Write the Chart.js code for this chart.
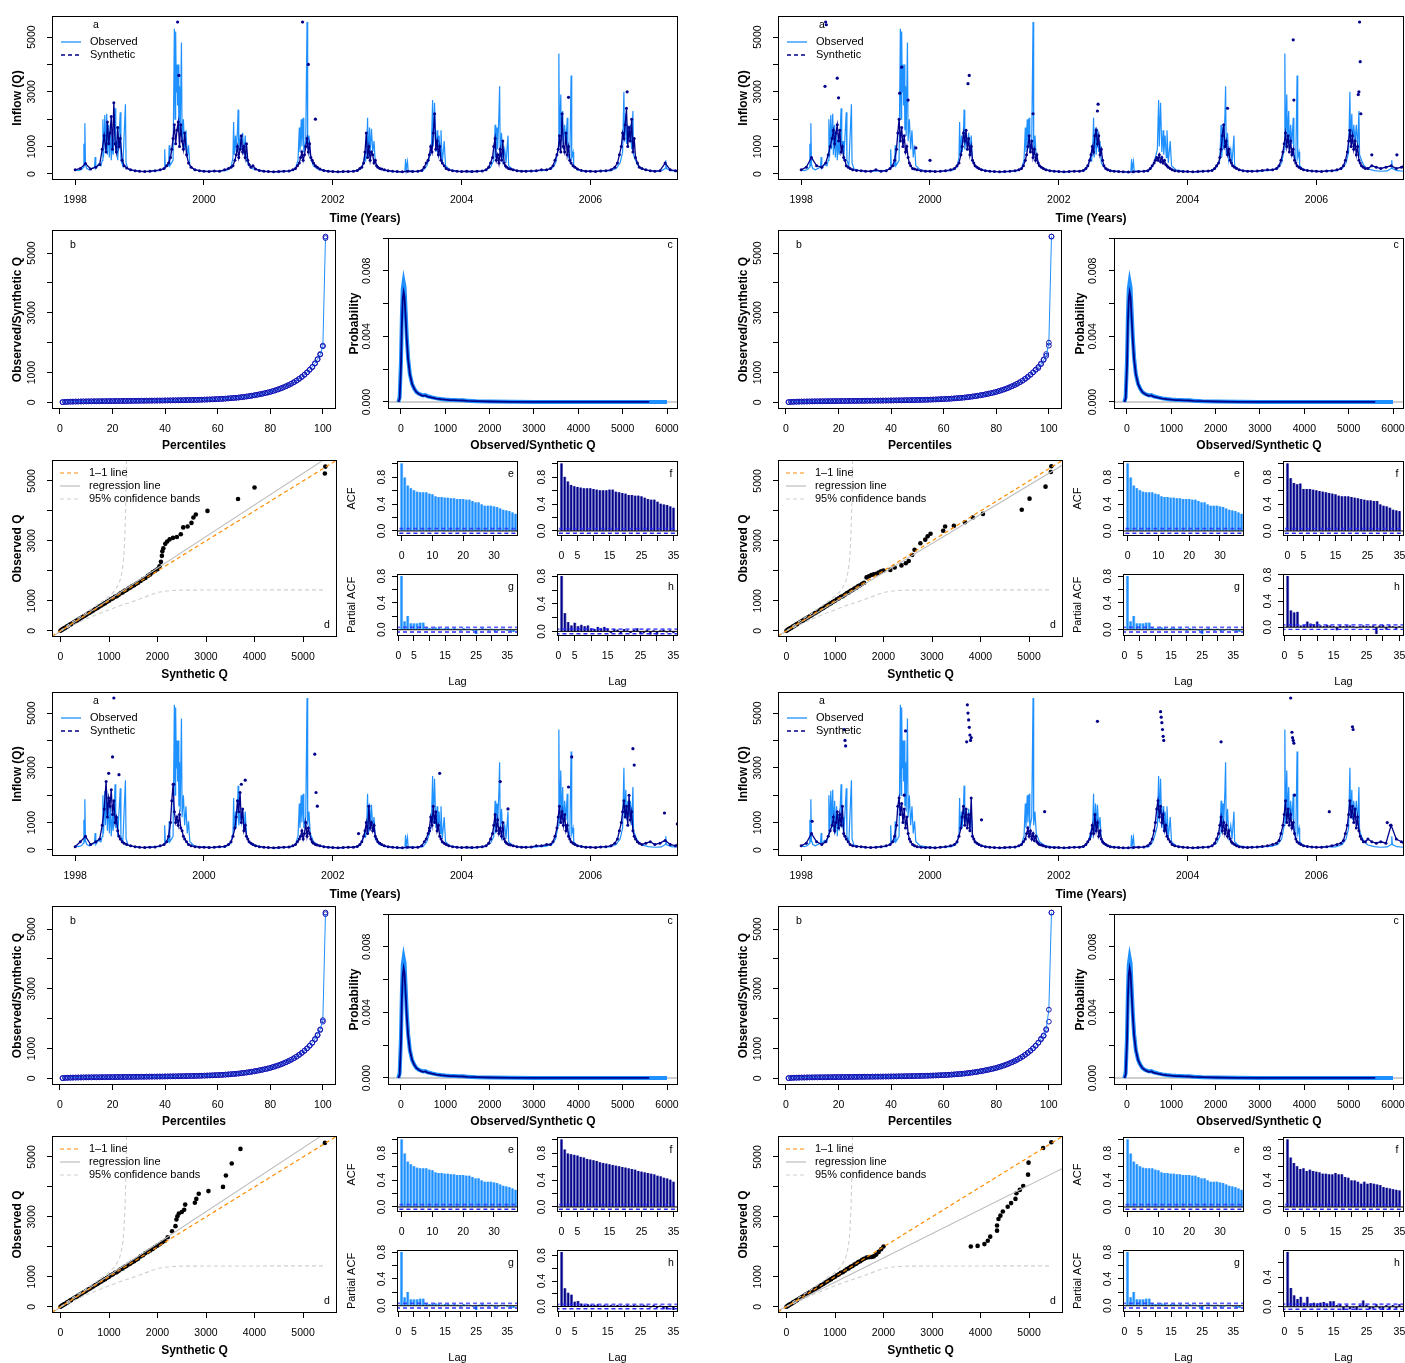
<!DOCTYPE html>
<html lang="en">
<head>
<meta charset="UTF-8" />
<title>Observed vs synthetic inflow</title>
<script src="https://cdn.jsdelivr.net/npm/chart.js"></script>
<style>
  body { margin: 0; background: #fff; }
  #fig { position: relative; width: 1405px; height: 1363px; overflow: hidden; background: #fff; }
  #fig canvas { position: absolute; }
</style>
</head>
<body>
<div id="fig"></div>
<script>
// ---- observed daily inflow (spikes kept) ----
const obsTime = [
  1998.00,1998.05,1998.10,1998.13,1998.135,1998.14,1998.15,1998.16,1998.18,1998.22,1998.30,1998.31,1998.32,1998.36,1998.40,1998.42,1998.43,1998.44,1998.46,1998.47,1998.49,1998.50,1998.52,1998.53,1998.55,1998.56,1998.58,1998.59,1998.62,1998.63,1998.65,1998.66,1998.70,1998.71,1998.74,1998.78,1998.79,1998.82,1998.90,
  1999.00,1999.10,1999.20,1999.30,1999.38,1999.39,1999.40,1999.45,1999.46,1999.47,1999.52,1999.54,1999.55,1999.56,1999.57,1999.58,1999.59,1999.60,1999.61,1999.62,1999.63,1999.65,1999.66,1999.68,1999.70,1999.72,1999.74,1999.76,1999.78,1999.85,1999.95,
  2000.05,2000.15,2000.25,2000.35,2000.42,2000.45,2000.46,2000.47,2000.49,2000.50,2000.52,2000.53,2000.54,2000.56,2000.58,2000.60,2000.62,2000.64,2000.66,2000.70,2000.75,2000.85,2000.95,
  2001.05,2001.15,2001.25,2001.35,2001.42,2001.46,2001.48,2001.49,2001.51,2001.52,2001.54,2001.55,2001.58,2001.60,2001.61,2001.63,2001.65,2001.70,2001.78,2001.90,
  2002.00,2002.10,2002.20,2002.30,2002.40,2002.46,2002.50,2002.51,2002.53,2002.54,2002.55,2002.57,2002.58,2002.60,2002.62,2002.64,2002.66,2002.72,2002.82,2002.95,
  2003.05,2003.12,2003.13,2003.14,2003.16,2003.17,2003.30,2003.40,2003.46,2003.50,2003.53,2003.55,2003.56,2003.58,2003.60,2003.62,2003.63,2003.65,2003.67,2003.68,2003.70,2003.73,2003.75,2003.82,2003.95,
  2004.05,2004.15,2004.25,2004.35,2004.45,2004.50,2004.52,2004.53,2004.55,2004.56,2004.58,2004.59,2004.60,2004.62,2004.64,2004.67,2004.69,2004.72,2004.73,2004.80,2004.90,
  2005.00,2005.10,2005.20,2005.30,2005.40,2005.46,2005.50,2005.51,2005.52,2005.54,2005.55,2005.57,2005.58,2005.60,2005.62,2005.64,2005.65,2005.68,2005.70,2005.71,2005.73,2005.74,2005.80,2005.90,
  2006.00,2006.10,2006.20,2006.30,2006.40,2006.46,2006.50,2006.52,2006.53,2006.55,2006.56,2006.58,2006.60,2006.62,2006.64,2006.66,2006.67,2006.70,2006.74,2006.80,2006.90,
  2007.00,2007.10,2007.16,2007.17,2007.18,2007.25,2007.36
];
const obsQ = [
  150,120,160,250,1100,300,1850,350,200,150,250,620,200,350,300,500,2000,600,2150,900,2200,700,1800,600,1600,500,1300,700,2400,800,1200,500,2250,500,300,2550,400,180,130,
  100,90,110,120,200,900,250,300,1050,300,500,5300,2000,5200,3000,4000,2500,4000,1600,3200,1400,4800,1200,2000,900,1600,600,1050,300,150,110,
  100,90,100,130,250,600,1900,700,1400,800,1600,2350,900,1300,1000,1500,700,1400,500,300,200,130,100,
  90,80,90,110,200,500,1700,800,2000,1000,2050,800,1200,5550,900,1400,600,300,160,110,
  90,80,90,100,130,300,700,450,1200,2050,600,1700,700,1650,800,1200,400,200,120,90,
  80,100,550,150,450,120,90,120,300,600,900,2700,1000,2600,800,1600,700,1400,600,1600,400,1200,300,150,100,
  90,80,90,110,250,500,1800,600,1700,900,2200,3200,700,1500,500,900,400,1400,300,150,110,
  100,90,120,130,200,400,900,4400,1000,2900,1200,2300,900,1800,1100,2050,700,500,3600,600,800,300,150,110,
  90,100,120,110,200,400,800,3000,1200,2200,1100,1800,1200,1800,900,2300,700,500,300,180,120,
  100,110,200,500,200,120,100
];

// ---- synthetic series: sample dates (year + fraction) and values per run ----
const synYears = [1998, 1999, 2000, 2001, 2002, 2003, 2004, 2005, 2006];
const synFrac = [0, .08, .16, .24, .32, .38, .42, .45, .48, .50, .52, .54, .56, .58, .60, .62, .64, .66, .68, .70, .73, .76, .80, .86, .93];
const synLast = [2007.00, 2007.08, 2007.16, 2007.24, 2007.32, 2007.36];

const synQ1 = [
  150,200,380,180,250, 350,900,1400,800,1900, 1100,1500,2100,900,2600, 1100,800,1700,1000,1300, 500,300,220,150,120,
  100,90,100,120,150, 200,300,400,600,900, 1300,1800,1100,1600,1900, 1000,1800,1200,900,1500, 700,400,250,150,120,
  100,90,110,100,150, 200,250,300,500,700, 1000,600,900,1400,800, 1000,600,1100,500,350, 250,300,180,130,100,
  90,80,90,100,110, 150,200,300,400,600, 800,500,700,1000,1300, 800,1100,600,500,400, 300,250,180,130,100,
  90,80,90,90,100, 130,200,250,400,800, 1500,600,1000,500,800, 700,400,500,300,250, 200,180,150,120,100,
  90,80,100,90,100, 130,250,400,500,700, 1000,800,1500,2200,900, 1200,700,1000,500,400, 300,200,150,120,100,
  90,100,90,100,110, 150,250,400,600,1000, 1300,500,700,400,900, 500,1200,400,300,250, 200,180,150,120,100,
  100,110,120,150,150, 200,300,500,700,900, 1400,800,2200,1000,800, 1500,700,1000,500,400, 300,250,180,130,100,
  100,90,110,120,150, 250,400,700,1000,1500, 1300,1800,2400,1000,1700, 1200,2000,800,1300,600, 400,250,200,150,120,
  100,120,400,150,120,100
];
const synQ2 = [
  150,250,600,300,250, 400,700,1000,1300,1600, 1100,1500,1800,1200,1600, 800,1000,600,500,300, 250,200,150,130,120,
  100,100,150,100,120, 200,300,500,900,1500, 2000,1200,1700,1000,1400, 800,1000,600,400,300, 200,180,150,120,100,
  100,90,100,120,150, 200,300,400,700,1000, 1500,1200,1600,900,1300, 700,1000,500,400,300, 250,200,150,120,100,
  90,80,90,100,120, 150,200,300,500,700, 1000,1400,800,1200,600, 900,500,700,400,300, 250,200,150,120,100,
  90,80,90,100,100, 130,200,300,500,700, 1000,800,1400,1600,1100, 1400,700,900,500,300, 200,150,120,100,90,
  80,70,80,90,100, 120,200,300,400,500, 600,500,700,450,600, 400,500,350,300,250, 200,150,120,100,90,
  90,80,90,100,110, 130,200,300,400,600, 900,1400,1800,1000,1200, 700,900,500,400,300, 250,200,150,120,100,
  100,110,130,150,150, 200,300,500,800,1100, 1500,1000,1400,800,1200, 700,900,500,400,300, 250,200,150,130,110,
  100,90,110,120,150, 200,300,500,800,1200, 1600,1000,1400,900,1200, 700,1000,500,400,300, 250,200,200,300,250,
  200,250,300,200,250,300
];
const synQ3 = [
  120,300,500,200,300, 400,900,1500,2500,1200, 1900,1600,2200,1300,1800, 1000,1200,700,500,400, 300,250,200,150,120,
  100,90,100,110,150, 200,300,500,1000,1800, 2400,1400,1000,1200,900, 1300,800,700,500,400, 300,200,150,120,100,
  100,90,100,120,130, 200,300,500,800,1200, 1800,1400,2100,1000,1500, 700,900,500,400,300, 250,200,150,120,100,
  90,80,90,100,110, 150,200,300,400,500, 700,400,600,1000,500, 800,600,400,300,250, 200,180,150,120,100,
  90,80,90,100,100, 130,200,300,500,700, 1000,600,1600,800,1000, 700,900,500,400,300, 250,200,150,120,100,
  90,80,100,90,100, 150,300,400,600,800, 1200,900,1600,1000,1400, 700,900,500,400,300, 250,200,150,120,100,
  90,100,90,100,120, 150,250,400,600,900, 1300,700,1100,600,800, 500,1000,400,300,250, 200,180,150,120,100,
  100,110,150,150,200, 200,300,500,800,1200, 1600,1000,1400,900,1300, 700,900,500,400,300, 250,200,150,130,100,
  100,90,110,120,150, 250,400,700,1000,1400, 1800,1200,1600,900,2000, 1100,1400,700,500,400, 300,250,200,250,300,
  200,250,350,200,150,200
];
const synQ4 = [
  150,250,600,300,200, 300,500,700,900,1200, 700,1000,1400,800,1300, 900,1600,600,500,400, 300,200,150,130,120,
  100,90,100,120,150, 200,300,500,900,1600, 1900,1300,1700,1000,1500, 800,1200,600,400,300, 200,150,120,100,90,
  90,80,100,120,150, 200,300,500,800,1200, 1600,900,1500,800,1300, 700,1900,500,400,300, 250,200,150,120,100,
  90,80,90,100,110, 150,200,300,400,600, 800,500,700,400,600, 350,500,300,250,200, 180,150,120,100,90,
  90,80,90,100,100, 130,200,300,400,600, 900,600,1300,700,1000, 500,700,400,300,250, 200,150,120,100,90,
  80,80,90,100,110, 150,250,400,700,1000, 1500,1800,1200,1600,1000, 1300,700,900,500,400, 300,200,150,120,100,
  90,80,90,100,110, 150,250,400,600,900, 1200,700,1000,600,900, 500,700,400,300,250, 200,150,120,100,90,
  100,110,130,150,200, 250,350,600,900,1300, 1800,1000,1500,900,1300, 800,1000,600,400,300, 250,200,150,130,110,
  100,100,120,150,200, 250,350,600,900,1300, 1800,1200,1600,1000,1500, 800,1200,700,500,400, 300,300,400,300,250,
  300,250,900,400,300,250
];

// isolated synthetic points well above the seasonal cloud
const outT1 = [1999.59, 1999.61, 2001.53, 2001.62, 2001.73, 2005.66, 2006.57];
const outQ1 = [5550, 3600, 5550, 4000, 2000, 2800, 3000];
const outT2 = [1998.38, 1998.39, 1998.37, 1998.56, 1998.58, 1999.53, 1999.56, 1999.66, 2000.59, 2000.61, 2001.60, 2002.61, 2002.60, 2004.62, 2005.64, 2005.65, 2006.67, 2006.68, 2006.66, 2006.65, 2006.69, 2006.86, 2007.25, 1999.78, 2000.00];
const outQ2 = [5550, 5450, 3200, 3500, 2780, 2950, 3900, 2700, 3300, 3600, 2200, 2550, 2300, 2400, 4900, 2700, 5550, 4100, 3000, 2900, 2200, 700, 700, 950, 500];
const outT3 = [1998.60, 1998.58, 1998.52, 1998.68, 1999.53, 2000.64, 2000.58, 2001.72, 2001.74, 2001.76, 2003.66, 2004.60, 2004.72, 2005.71, 2005.66, 2006.66, 2006.68, 2007.15, 2007.35, 2002.40, 2003.50];
const outQ3 = [5550, 3400, 2800, 2750, 2400, 2550, 2400, 3500, 2100, 1600, 2800, 2500, 1500, 3400, 2300, 3700, 3100, 1350, 950, 600, 700];
const outT4 = [1998.67, 1998.68, 1998.69, 1998.17, 1999.62, 1999.60, 2000.58, 2000.59, 2000.60, 2000.61, 2000.62, 2000.63, 2000.64, 2000.57, 2000.80, 2002.60, 2003.58, 2003.59, 2003.60, 2003.61, 2003.62, 2003.63, 2004.52, 2005.60, 2005.62, 2005.63, 2005.64, 2005.65, 2005.66, 2006.56, 2006.57, 2006.20, 2007.10, 2007.15, 2001.78];
const outQ4 = [4400, 4000, 3800, 1050, 4350, 2000, 5300, 5000, 4750, 4480, 4200, 4000, 4100, 3950, 1100, 4700, 5050, 4850, 4650, 4400, 4150, 4000, 3950, 5550, 4300, 4100, 4000, 3900, 2000, 4500, 4400, 1400, 1000, 900, 1400];

// ---- percentiles (panel b) ----
const obsPct = [
  10,18,22,25,27,29,30,32,33,35, 36,37,38,39,40,41,42,43,44,45,
  46,47,48,49,50,51,52,53,54,55, 56,57,58,59,60,61,62,63,64,66,
  67,68,70,71,73,74,76,78,80,82, 84,86,88,91,94,97,100,104,108,112,
  117,122,128,134,141,148,156,165,175,186, 198,211,225,240,256,273,291,310,331,354,
  379,406,436,468,503,541,582,627,676,730, 790,855,927,1006,1093,1190,1300,1440,1620,1900,
  5550
];
const synPctTop1 = [1180, 1310, 1450, 1600, 1880, 5500];
const synPctTop2 = [1150, 1280, 1420, 1560, 2000, 5550];
const synPctTop3 = [1200, 1320, 1460, 1640, 1950, 5500];
const synPctTop4 = [1200, 1330, 1420, 1650, 2300, 5550];

// ---- densities (panel c) ----
const densX = [-60,-30,0,20,40,60,80,100,130,160,200,250,300,350,400,450,500,550,600,700,800,900,1000,1100,1200,1300,1400,1500,1700,2000,2500,3000,4000,5000,5600,6000];
const obsDens = [0,0.0003,0.0025,0.0052,0.0069,0.0073,0.0070,0.0058,0.0040,0.0027,0.0017,0.0011,0.0008,0.0006,0.0005,0.00045,0.0004,0.00042,0.00035,0.00028,0.00022,0.00018,0.00015,0.00013,0.00012,0.00011,0.0001,0.00008,0.00005,0.00003,0.00001,0.000005,0.000003,0.000003,0.000002,0.000001];
const synDens = [0,0.0002,0.0022,0.0048,0.0063,0.0067,0.0064,0.0054,0.0038,0.0026,0.0017,0.0011,0.0008,0.0006,0.0005,0.00042,0.00038,0.0004,0.00033,0.00027,0.00021,0.00017,0.00015,0.00012,0.00011,0.0001,0.00009,0.00007,0.00005,0.00003,0.00001,0.000005,0.000003,0.000003,0.000002,null];

// ---- Q-Q (panel d): synthetic vs observed quantiles ----
const qqBaseSyn = [0,20,40,60,80,100,130,160,190,220,250,280,310,340,370,400,440,480,520,560,600,640,680,720,760,800,840,880,920,960,1000,1040,1080,1120,1160,1200,1240,1280,1320,1360,1400,1440,1480,1520,1560,1600];
const qqBaseObs = [0,25,45,62,85,100,135,160,195,220,255,280,315,340,372,405,440,485,520,565,600,645,680,725,760,805,840,885,920,965,1000,1050,1080,1130,1150,1200,1250,1280,1330,1360,1410,1440,1490,1520,1570,1600];
const qqSyn1 = [1650,1700,1750,1800,1850,1900,1950,2000,2040,2070,2090,2100,2120,2160,2200,2250,2320,2400,2480,2530,2620,2700,2740,2790,3030,3660,4000,5450,5460];
const qqObs1 = [1660,1720,1760,1830,1880,1950,2000,2050,2150,2300,2500,2650,2750,2900,2980,3050,3100,3130,3220,3450,3480,3600,3780,3880,4000,4400,4780,5250,5480];
const qqSyn2 = [1650,1700,1750,1800,1850,1900,1950,2000,2140,2230,2370,2460,2520,2590,2640,2760,2860,2910,2970,3230,3270,3450,3680,3840,4050,4850,5010,5340,5450,5460];
const qqObs2 = [1780,1820,1860,1880,1900,1940,1980,2010,2030,2110,2180,2250,2330,2530,2700,2920,3040,3150,3240,3340,3480,3500,3620,3780,3900,4040,4410,4810,5300,5490];
const qqSyn3 = [1650,1700,1750,1800,1850,1900,1950,2000,2050,2100,2150,2210,2300,2370,2390,2410,2440,2500,2550,2570,2770,2800,2850,3050,3350,3410,3530,3710,5450];
const qqObs3 = [1680,1720,1790,1830,1880,1930,1990,2040,2090,2150,2200,2320,2520,2690,2910,3020,3110,3160,3240,3410,3470,3600,3770,3860,4000,4380,4780,5270,5470];
const qqSyn4 = [1650,1700,1750,1800,1850,1900,1950,2000,3800,3940,4080,4150,4200,4340,4340,4370,4410,4460,4560,4630,4720,4740,4810,4880,4980,4990,5290,5460];
const qqObs4 = [1640,1650,1660,1680,1740,1830,1920,2010,2010,2030,2090,2200,2340,2540,2710,2930,3040,3180,3340,3460,3600,3790,3900,4030,4410,4810,5300,5490];
const regEnds = [[-205, 5994], [-180, 5540], [-206, 6050], [-132, 4627]]; // y at x=-175 and x=5700
const bandUpX = [0,250,500,750,1000,1100,1200,1250,1290,1310,1330,1345,1355,1362];
const bandUpY = [0,300,560,850,1150,1300,1550,1800,2200,2600,3300,4200,5000,5800];
const bandLoX = [0,250,500,750,1000,1250,1500,1750,2000,2250,2500,3500,5450];
const bandLoY = [0,180,370,540,700,850,980,1130,1280,1340,1355,1360,1365];

// ---- autocorrelation (panels e-h) ----
const acfObs = [1,0.79,0.67,0.63,0.6,0.58,0.57,0.57,0.57,0.55,0.54,0.51,0.5,0.5,0.49,0.49,0.48,0.48,0.47,0.47,0.47,0.46,0.46,0.44,0.42,0.42,0.39,0.37,0.37,0.37,0.36,0.35,0.33,0.31,0.3,0.29,0.27,0.25];
const pacfObs = [0.8,0.12,0.2,0.09,0.09,0.09,0.1,0.1,0.03,0.02,0.02,0.03,0.02,0.01,0.02,0.02,0.01,0.02,0.01,-0.01,0.02,0.01,0.01,-0.01,-0.06,0.01,0.02,0.01,-0.01,0.01,-0.02,-0.01,0.01,0.01,-0.01,-0.02,-0.03];
const acfSyn1 = [1,0.8,0.73,0.68,0.66,0.65,0.64,0.63,0.63,0.63,0.62,0.61,0.6,0.6,0.6,0.61,0.61,0.58,0.57,0.56,0.55,0.53,0.53,0.52,0.52,0.51,0.49,0.47,0.46,0.46,0.43,0.4,0.39,0.38,0.36,0.34];
const acfSyn2 = [1,0.78,0.71,0.69,0.7,0.62,0.62,0.62,0.61,0.6,0.59,0.58,0.57,0.56,0.55,0.54,0.52,0.51,0.51,0.51,0.5,0.49,0.48,0.47,0.46,0.45,0.45,0.44,0.44,0.39,0.37,0.36,0.34,0.31,0.3,0.29];
const acfSyn3 = [1,0.85,0.79,0.78,0.77,0.76,0.74,0.73,0.71,0.7,0.69,0.68,0.66,0.65,0.64,0.63,0.62,0.61,0.6,0.59,0.58,0.57,0.56,0.55,0.53,0.52,0.51,0.5,0.49,0.48,0.46,0.45,0.43,0.42,0.4,0.37];
const acfSyn4 = [1,0.73,0.65,0.6,0.56,0.57,0.53,0.55,0.53,0.52,0.51,0.49,0.49,0.48,0.48,0.5,0.48,0.48,0.44,0.43,0.39,0.39,0.37,0.34,0.37,0.34,0.35,0.34,0.33,0.32,0.29,0.28,0.27,0.26,0.25,0.24];
const pacfSyn1 = [0.8,0.26,0.13,0.08,0.12,0.07,0.09,0.07,0.08,0.04,0.03,0.06,0.04,0.06,0.04,-0.02,0.03,0.02,-0.03,0.03,0.01,-0.02,0.02,0.04,-0.03,-0.02,0.02,-0.04,0.01,-0.04,0.01,0.02,-0.01,0.01,-0.02];
const pacfSyn2 = [0.78,0.25,0.22,0.23,0.02,0.03,0.08,0.05,0.04,0.08,0.02,0.01,0.03,0.02,0.01,-0.04,0.02,0.01,0.02,0.02,0.01,-0.01,0.01,0.02,0.01,0.01,0.02,-0.1,0.02,0.03,-0.03,0.02,0.01,-0.02,0.01];
const pacfSyn3 = [0.85,0.28,0.21,0.18,0.07,0.08,0.04,0.02,0.03,0.02,0.02,0.03,0.01,0.02,0.01,0.02,0.01,0.02,0.01,0.01,0.02,0.01,0.02,0.01,0.01,0.02,0.01,-0.01,0.02,-0.02,0.01,-0.03,-0.04,0.01,-0.05];
const pacfSyn4 = [0.74,0.25,0.15,0.1,0.13,0.05,0.13,0.04,0.05,0.04,0.05,0.06,0.04,0.07,0.07,0.02,0.03,-0.04,0.02,-0.03,-0.01,-0.04,0.02,0.08,0.02,-0.03,-0.02,0.03,-0.02,-0.04,0.02,-0.03,0.02,-0.02,0.03];
const hRange = [[-0.067, 0.833], [-0.135, 0.815], [-0.086, 0.886], [-0.071, 0.771]];
const confLim = 0.034;

// ---- drawing ----
const BLUE = '#1E90FF', NAVY = '#00008B';
const FONT = "'Liberation Sans', Arial, Helvetica, sans-serif";
Chart.defaults.font.family = FONT;
Chart.defaults.font.size = 10.5;
Chart.defaults.color = '#000';
Chart.defaults.animation = false;
Chart.defaults.responsive = false;
Chart.defaults.maintainAspectRatio = false;
Chart.defaults.events = [];
Chart.defaults.plugins.legend.display = false;
Chart.defaults.plugins.tooltip.enabled = false;

// box round the plot region, panel letters and small legends (R style)
Chart.register({
  id: 'rFrame',
  afterDatasetsDraw(chart, _args, o) {
    const { ctx, chartArea: a } = chart;
    ctx.save();
    ctx.strokeStyle = '#000';
    ctx.lineWidth = 1;
    const l = Math.round(a.left);
    ctx.strokeRect(l + 0.5, Math.round(a.top) + 0.5, Math.round(a.right) - l - 1, Math.round(a.bottom - a.top) - 1);
    ctx.fillStyle = '#000';
    ctx.textBaseline = 'middle';
    ctx.font = '10.5px ' + FONT;
    (o.notes || []).forEach(n => {
      ctx.textAlign = 'center';
      ctx.fillText(n.t, a.left + n.x, a.top + n.y);
    });
    ctx.font = '11px ' + FONT;
    (o.keys || []).forEach(k => {
      ctx.strokeStyle = k.color;
      ctx.lineWidth = k.w;
      ctx.setLineDash(k.dash || []);
      ctx.beginPath();
      ctx.moveTo(a.left + k.x, a.top + k.y);
      ctx.lineTo(a.left + k.x + 20, a.top + k.y);
      ctx.stroke();
      ctx.setLineDash([]);
      ctx.textAlign = 'left';
      ctx.fillText(k.t, a.left + k.x + 29, a.top + k.y);
    });
    ctx.restore();
  }
});

const fig = document.getElementById('fig');
// canvas is sized so that the chart area lands exactly on `box`
function makeChart(box, m, type, datasets, scales, frame) {
  const cv = document.createElement('canvas');
  const mt = 14, mr = 22;
  const w = box[2] - box[0] + m.l + mr, h = box[3] - box[1] + mt + m.b;
  cv.width = w; cv.height = h;
  cv.style.left = (box[0] - m.l) + 'px';
  cv.style.top = (box[1] - mt) + 'px';
  cv.style.width = w + 'px';
  cv.style.height = h + 'px';
  fig.appendChild(cv);
  return new Chart(cv, {
    type,
    data: { datasets },
    options: {
      layout: { padding: { left: 0, top: mt, right: mr, bottom: 0 } },
      scales,
      plugins: { rFrame: frame }
    }
  });
}

const fmtInt = v => String(v);
const fmt1 = v => v.toFixed(1);
const fmt3 = v => v.toFixed(3);
const boldT = (text, pad) => ({ text, pad, font: { size: 12, weight: 'bold' } });
const plainT = (text, pad) => ({ text, pad, font: { size: 11 } });

function axis(pos, min, max, ticks, shown, fmt, size, title) {
  const horiz = pos === 'bottom';
  const o = {
    type: 'linear', position: pos, min, max, offset: false,
    afterBuildTicks: s => { s.ticks = ticks.map(v => ({ value: v })); },
    afterFit: s => { if (horiz) s.height = size; else s.width = size; },
    grid: { drawOnChartArea: false, drawTicks: true, tickLength: 5, color: '#000', lineWidth: 1, offset: false },
    border: { display: false },
    ticks: { autoSkip: false, padding: horiz ? 9 : 3, callback: v => shown.includes(v) ? fmt(v) : '' },
    title: { display: false }
  };
  if (horiz) { o.ticks.maxRotation = 0; o.ticks.minRotation = 0; }
  else { o.ticks.minRotation = 90; o.ticks.maxRotation = 90; o.ticks.crossAlign = 'center'; }
  if (title) o.title = { display: true, text: title.text, color: '#000', font: title.font, padding: title.pad };
  return o;
}

const pts = (xs, ys) => xs.map((x, i) => ({ x, y: ys[i] }));
const lineSet = (data, color, width, dash, order) => ({
  data, showLine: true, borderColor: color, borderWidth: width, borderDash: dash || [],
  pointRadius: 0, fill: false, tension: 0, order
});

const Q_TICKS = [0, 1000, 2000, 3000, 4000, 5000];
const Q_SHOWN = [0, 1000, 3000, 5000];
const LAG5 = [0, 5, 10, 15, 20, 25, 30, 35];
const LAG5_SHOWN = [0, 5, 15, 25, 35];

function acfSets(lags, vals, thick, thin) {
  const d = pts(lags, vals);
  return [
    { type: 'line', data: [{ x: -3, y: 0 }, { x: 40, y: 0 }], showLine: true, borderColor: '#000', borderWidth: 1, pointRadius: 0, order: 0 },
    { type: 'line', data: [{ x: -3, y: confLim }, { x: 40, y: confLim }], showLine: true, borderColor: 'rgba(40,40,255,0.75)', borderWidth: 1.8, borderDash: [4, 3], pointRadius: 0, order: 0 },
    { type: 'line', data: [{ x: -3, y: -confLim }, { x: 40, y: -confLim }], showLine: true, borderColor: 'rgba(20,20,255,0.9)', borderWidth: 1.4, borderDash: [4, 3], pointRadius: 0, order: 0 },
    { type: 'bar', data: d, backgroundColor: thin, barThickness: 1, grouped: false, order: 1 },
    { type: 'bar', data: d, backgroundColor: thick, barThickness: 2.4, grouped: false, order: 2 }
  ];
}

const QUADS = [[0, 0], [726, 0], [0, 676], [726, 676]];
const synQ = [synQ1, synQ2, synQ3, synQ4];
const outT = [outT1, outT2, outT3, outT4];
const outQ = [outQ1, outQ2, outQ3, outQ4];
const synPctTop = [synPctTop1, synPctTop2, synPctTop3, synPctTop4];
const qqSyn = [qqSyn1, qqSyn2, qqSyn3, qqSyn4];
const qqObs = [qqObs1, qqObs2, qqObs3, qqObs4];
const acfSyn = [acfSyn1, acfSyn2, acfSyn3, acfSyn4];
const pacfSyn = [pacfSyn1, pacfSyn2, pacfSyn3, pacfSyn4];

const synTime = [];
synYears.forEach(y => synFrac.forEach(f => synTime.push(+(y + f).toFixed(2))));
synLast.forEach(t => synTime.push(t));
const pctX = obsPct.map((_, i) => i + 1);

function quadrant(k) {
  const [ox, oy] = QUADS[k];
  const B = (l, t, r, b) => [l + ox, t + oy, r + ox, b + oy];

  // a: time series
  makeChart(B(52, 16, 678, 180), { l: 52, b: 46 }, 'scatter', [
    { data: pts(outT[k], outQ[k]), pointRadius: 1.6, pointBackgroundColor: NAVY, pointBorderWidth: 0, order: 0 },
    { data: pts(synTime, synQ[k]), showLine: true, borderColor: NAVY, borderWidth: 1.3, pointRadius: 1.5, pointBackgroundColor: NAVY, pointBorderWidth: 0, tension: 0, order: 1 },
    lineSet(pts(obsTime, obsQ), BLUE, 1.2, null, 2)
  ], {
    x: axis('bottom', 1997.64, 2007.36, [1998, 2000, 2002, 2004, 2006], [1998, 2000, 2002, 2004, 2006], fmtInt, 46, boldT('Time (Years)', { bottom: 0 })),
    y: axis('left', -220, 5770, Q_TICKS, Q_SHOWN, fmtInt, 52, boldT('Inflow (Q)', { top: 10.8 }))
  }, {
    notes: [{ t: 'a', x: 44, y: 9 }],
    keys: [
      { t: 'Observed', x: 9, y: 26, color: BLUE, w: 1.3 },
      { t: 'Synthetic', x: 9, y: 39, color: NAVY, w: 1.3, dash: [4, 3] }
    ]
  });

  // b: percentiles
  const synPct = obsPct.slice(0, 95).concat(synPctTop[k]);
  const circ = { pointRadius: 2.4, pointStyle: 'circle', pointBorderColor: '#1515B5', pointBackgroundColor: 'rgba(0,0,0,0)', pointBorderWidth: 1 };
  makeChart(B(52, 230, 336, 409), { l: 52, b: 44 }, 'scatter', [
    Object.assign({ data: pts(pctX, synPct), showLine: true, borderColor: BLUE, borderWidth: 1, tension: 0, order: 0 }, circ),
    Object.assign({ data: pts(pctX, obsPct), order: 1 }, circ)
  ], {
    x: axis('bottom', -3, 105, [0, 20, 40, 60, 80, 100], [0, 20, 40, 60, 80, 100], fmtInt, 44, boldT('Percentiles', { bottom: 0 })),
    y: axis('left', -220, 5770, Q_TICKS, Q_SHOWN, fmtInt, 52, boldT('Observed/Synthetic Q', { top: 10.8 }))
  }, { notes: [{ t: 'b', x: 21, y: 15 }] });

  // c: densities
  makeChart(B(388, 238, 678, 409), { l: 42, b: 44 }, 'scatter', [
    lineSet(pts(densX, synDens), NAVY, 1.8, null, 0),
    lineSet(pts(densX, obsDens), BLUE, 4, null, 1),
    lineSet([{ x: -600, y: 0 }, { x: 6300, y: 0 }], '#BEBEBE', 1.5, null, 2)
  ], {
    x: axis('bottom', -293, 6248, [0, 1000, 2000, 3000, 4000, 5000, 6000], [0, 1000, 2000, 3000, 4000, 5000, 6000], fmtInt, 44, boldT('Observed/Synthetic Q', { bottom: 0 })),
    y: axis('left', -0.000427, 0.01, [0, 0.002, 0.004, 0.006, 0.008, 0.010], [0, 0.004, 0.008], fmt3, 42, boldT('Probability', { top: 1.8 }))
  }, { notes: [{ t: 'c', x: 282, y: 7 }] });

  // d: Q-Q
  const r = regEnds[k];
  makeChart(B(52, 460, 337, 637), { l: 52, b: 45 }, 'scatter', [
    lineSet([{ x: -300, y: -300 }, { x: 5800, y: 5800 }], '#FF8C00', 1.2, [4, 3], 0),
    lineSet([{ x: -175, y: r[0] }, { x: 5700, y: r[1] }], '#BEBEBE', 1.1, null, 1),
    lineSet(pts(bandUpX, bandUpY), '#CFCFCF', 1.1, [4, 3], 1),
    lineSet(pts(bandLoX, bandLoY), '#CFCFCF', 1.1, [4, 3], 1),
    { data: pts(qqBaseSyn.concat(qqSyn[k]), qqBaseObs.concat(qqObs[k])), pointRadius: 2.3, pointBackgroundColor: '#000', pointBorderWidth: 0, order: 2 }
  ], {
    x: axis('bottom', -175, 5700, Q_TICKS, Q_TICKS, fmtInt, 45, boldT('Synthetic Q', { bottom: 0 })),
    y: axis('left', -210, 5700, Q_TICKS, Q_SHOWN, fmtInt, 52, boldT('Observed Q', { top: 10.8 }))
  }, {
    notes: [{ t: 'd', x: 275, y: 165 }],
    keys: [
      { t: '1\u20131 line', x: 8, y: 13, color: '#FF8C00', w: 1.2, dash: [4, 3] },
      { t: 'regression line', x: 8, y: 26, color: '#BEBEBE', w: 1.2 },
      { t: '95% confidence bands', x: 8, y: 39, color: '#CFCFCF', w: 1.2, dash: [4, 3] }
    ]
  });

  // e-h: ACF / PACF
  const obsThick = 'rgba(30,144,255,0.55)', synThick = 'rgba(0,0,139,0.5)';
  const acfTicks = [0, 0.2, 0.4, 0.6, 0.8, 1.0], acfShown = [0, 0.4, 0.8];
  makeChart(B(397, 461, 518, 536), { l: 55, b: 25 }, 'bar',
    acfSets(acfObs.map((_, i) => i), acfObs, obsThick, BLUE), {
      x: axis('bottom', -1.5, 37.8, [0, 10, 20, 30], [0, 10, 20, 30], fmtInt, 25),
      y: axis('left', -0.075, 1.041, acfTicks, acfShown, fmt1, 55, plainT('ACF', { top: 3.4 }))
    }, { notes: [{ t: 'e', x: 114, y: 13 }] });

  makeChart(B(557, 461, 678, 536), { l: 30, b: 25 }, 'bar',
    acfSets(acfSyn[k].map((_, i) => i), acfSyn[k], synThick, NAVY), {
      x: axis('bottom', -1.4, 36.4, LAG5, LAG5_SHOWN, fmtInt, 25),
      y: axis('left', -0.075, 1.041, acfTicks, acfShown, fmt1, 30)
    }, { notes: [{ t: 'f', x: 114, y: 13 }] });

  makeChart(B(397, 574, 518, 636), { l: 55, b: 53 }, 'bar',
    acfSets(pacfObs.map((_, i) => i + 1), pacfObs, obsThick, BLUE), {
      x: axis('bottom', -0.44, 38.44, LAG5, LAG5_SHOWN, fmtInt, 53, plainT('Lag', { bottom: 0.4 })),
      y: axis('left', -0.094, 0.834, [0, 0.2, 0.4, 0.6, 0.8], acfShown, fmt1, 55, plainT('Partial ACF', { top: 3.4 }))
    }, { notes: [{ t: 'g', x: 114, y: 13 }] });

  const hr = hRange[k];
  makeChart(B(557, 574, 678, 636), { l: 30, b: 53 }, 'bar',
    acfSets(pacfSyn[k].map((_, i) => i + 1), pacfSyn[k], synThick, NAVY), {
      x: axis('bottom', -0.4, 36.4, LAG5, LAG5_SHOWN, fmtInt, 53, plainT('Lag', { bottom: 0.4 })),
      y: axis('left', hr[0], hr[1], [0, 0.2, 0.4, 0.6, 0.8].filter(v => v <= hr[1]), acfShown, fmt1, 30)
    }, { notes: [{ t: 'h', x: 114, y: 13 }] });
}

[0, 1, 2, 3].forEach(quadrant);
</script>
</body>
</html>
